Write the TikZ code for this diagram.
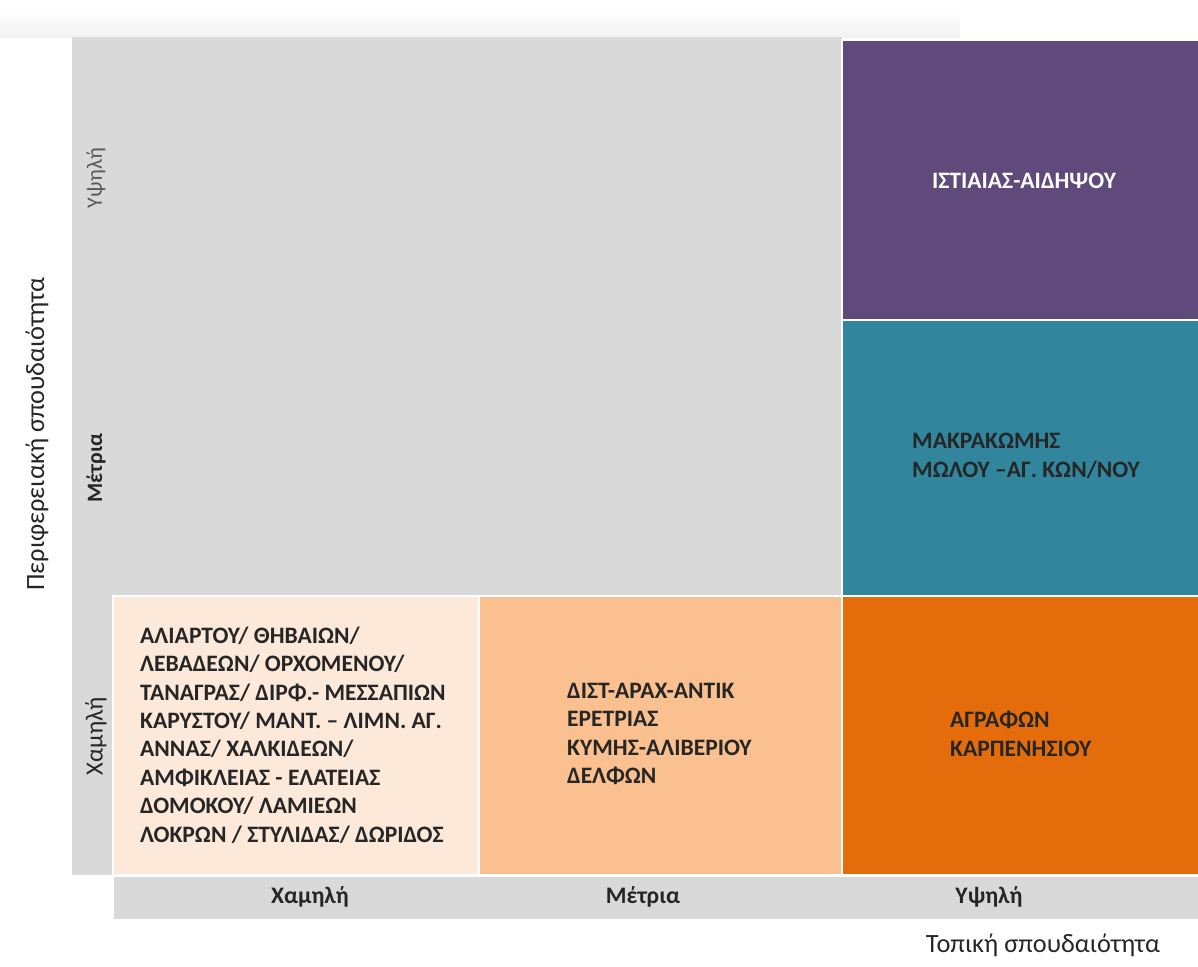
\documentclass[tikz,border=0pt]{standalone}
\usepackage{fontspec}
\setmainfont{Carlito}
\usetikzlibrary{positioning}

\definecolor{cellgray}{HTML}{D9D9D9}
\definecolor{lowpeach}{HTML}{FDE9D9}
\definecolor{midpeach}{HTML}{FAC090}
\definecolor{highorange}{HTML}{E46C0A}
\definecolor{highteal}{HTML}{31859C}
\definecolor{highpurple}{HTML}{604A7B}
\definecolor{textdark}{HTML}{262626}

\begin{document}
\begin{tikzpicture}[x=0.02cm,y=-0.02cm,
    cellfill/.style={draw=white,line width=1.7pt},
    celltext/.style={font=\bfseries\fontsize{13.4}{16.2}\selectfont,align=left,text=textdark},
    levellabel/.style={font=\fontsize{14}{16}\selectfont,text=textdark},
    axistitle/.style={font=\fontsize{15}{18}\selectfont,text=textdark}]
    % grenzen der zellen
    \def\xa{72}
    \def\xb{113}
    \def\xc{479}
    \def\xd{842}
    \def\xe{1198}
    \def\ya{37}
    \def\yb{320}
    \def\yc{596}
    \def\yd{875}
    \def\ye{920}

    \useasboundingbox (0,0) rectangle (1198,967);

    % schatten oben
    \fill[top color=white,bottom color=black!5] (0,6) rectangle (960,\ya);

    % graue flaeche und achsenspalte
    \fill[cellgray] (\xa,\ya) rectangle (\xd,\yc);
    \fill[cellgray] (\xa,\yc) rectangle (\xb,\yd);

    % untere zeile
    \filldraw[cellfill,fill=lowpeach] (\xb,\yc) rectangle (\xc,\yd);
    \filldraw[cellfill,fill=midpeach] (\xc,\yc) rectangle (\xd,\yd);
    \filldraw[cellfill,fill=highorange] (\xd,\yc) rectangle (\xe+5,\yd);

    % rechte spalte
    \filldraw[cellfill,fill=highpurple] (\xd,\ya+3) rectangle (\xe+5,\yb);
    \filldraw[cellfill,fill=highteal] (\xd,\yb) rectangle (\xe+5,\yc);

    % achsenleiste unten
    \filldraw[cellfill,fill=cellgray] (\xb,\yd) rectangle (\xe+5,\ye);

    % texte der zellen
    \node[celltext,anchor=west] (lowlow) at (134,735) {ΑΛΙΑΡΤΟΥ/ ΘΗΒΑΙΩΝ/\\ΛΕΒΑΔΕΩΝ/ ΟΡΧΟΜΕΝΟΥ/\\ΤΑΝΑΓΡΑΣ/ ΔΙΡΦ.- ΜΕΣΣΑΠΙΩΝ\\ΚΑΡΥΣΤΟΥ/ ΜΑΝΤ. – ΛΙΜΝ. ΑΓ.\\ΑΝΝΑΣ/ ΧΑΛΚΙΔΕΩΝ/\\ΑΜΦΙΚΛΕΙΑΣ - ΕΛΑΤΕΙΑΣ\\ΔΟΜΟΚΟΥ/ ΛΑΜΙΕΩΝ\\ΛΟΚΡΩΝ / ΣΤΥΛΙΔΑΣ/ ΔΩΡΙΔΟΣ};
    \node[celltext,anchor=west] (lowmid) at (561,734) {ΔΙΣΤ-ΑΡΑΧ-ΑΝΤΙΚ\\ΕΡΕΤΡΙΑΣ\\ΚΥΜΗΣ-ΑΛΙΒΕΡΙΟΥ\\ΔΕΛΦΩΝ};
    \node[celltext,anchor=west] (lowhigh) at (944,734) {ΑΓΡΑΦΩΝ\\ΚΑΡΠΕΝΗΣΙΟΥ};
    \node[celltext,anchor=west] (midhigh) at (906,456) {ΜΑΚΡΑΚΩΜΗΣ\\ΜΩΛΟΥ –ΑΓ. ΚΩΝ/ΝΟΥ};
    \node[celltext,text=white] (highhigh) at (1024,181) {ΙΣΤΙΑΙΑΣ-ΑΙΔΗΨΟΥ};

    % stufen der achsen
    \node[levellabel,rotate=90,text=black!65,font=\fontsize{12.5}{14}\selectfont] (yhigh) at (96,178) {Υψηλή};
    \node[levellabel,rotate=90,font=\bfseries\fontsize{12.5}{14}\selectfont] (ymid) at (96,468) {Μέτρια};
    \node[levellabel,rotate=90] (ylow) at (96,736) {Χαμηλή};
    \node[levellabel,font=\bfseries\fontsize{13.5}{15}\selectfont] (xlow) at (310,897) {Χαμηλή};
    \node[levellabel,font=\bfseries\fontsize{13.5}{15}\selectfont] (xmid) at (643,897) {Μέτρια};
    \node[levellabel,font=\bfseries\fontsize{13.5}{15}\selectfont] (xhigh) at (989,897) {Υψηλή};

    % achsentitel
    \node[axistitle,rotate=90] (ytitle) at (37,434) {Περιφερειακή σπουδαιότητα};
    \node[axistitle] (xtitle) at (1043,945) {Τοπική σπουδαιότητα};

  \end{tikzpicture}
\end{document}
